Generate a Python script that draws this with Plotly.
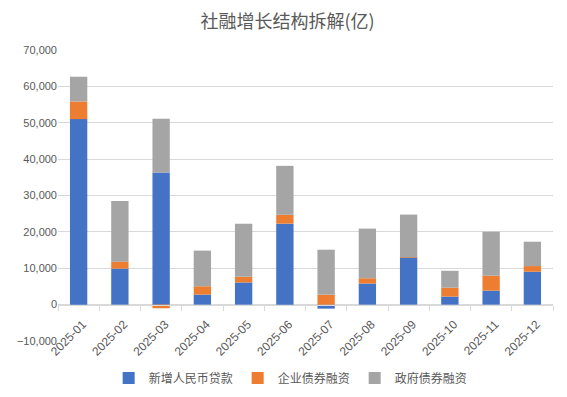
import plotly.graph_objects as go

months = ["2025-01", "2025-02", "2025-03", "2025-04", "2025-05", "2025-06",
          "2025-07", "2025-08", "2025-09", "2025-10", "2025-11", "2025-12"]
rmb_loans = [51000, 9900, 36300, 2750, 6100, 22250, -1100, 5800, 12900, 2200, 3850, 9050]
corp_bonds = [4850, 1900, -1000, 2300, 1550, 2450, 2750, 1450, 50, 2450, 4100, 1550]
gov_bonds = [6800, 16700, 14800, 9800, 14550, 13450, 12350, 13650, 11800, 4650, 12100, 6700]

names = ["新增人民币贷款", "企业债券融资", "政府债券融资"]
colors = ["#4472C4", "#ED7D31", "#A5A5A5"]

font_family = "Liberation Sans, Arial, Noto Sans CJK SC, sans-serif"
gray_text = "#595959"

fig = go.Figure()
for name, vals, col in zip(names, [rmb_loans, corp_bonds, gov_bonds], colors):
    fig.add_trace(go.Bar(x=months, y=vals, name=name, marker_color=col,
                         marker_line_width=0, width=0.42))

fig.update_layout(
    barmode="relative",
    width=559, height=389,
    margin=dict(l=50, r=14, t=42, b=56, autoexpand=False),
    paper_bgcolor="white", plot_bgcolor="white",
    font=dict(family=font_family, color=gray_text, size=11),
    title=dict(text="社融增长结构拆解(亿)", x=0.5, xanchor="center", y=0.964, yanchor="middle",
               font=dict(family="Noto Sans CJK SC, sans-serif", size=18, color=gray_text)),
    legend=dict(orientation="h", x=0.47, xanchor="center", y=-0.127, yanchor="middle",
                font=dict(family="Noto Sans CJK SC, sans-serif", size=12, color=gray_text),
                itemwidth=30, traceorder="normal"),
    showlegend=True,
)
fig.update_yaxes(range=[-10000, 70000], dtick=10000, tickformat=",", showgrid=True,
                 gridcolor="#D9D9D9", gridwidth=1, zeroline=False, showline=False,
                 ticks="", tickfont=dict(size=11, color=gray_text), domain=[0, 1],
                 automargin=False)
fig.update_xaxes(type="category", anchor="free", position=0.125, showline=True,
                 linecolor="#D9D9D9", linewidth=1, ticks="outside", tickson="boundaries",
                 ticklen=5, tickcolor="#D9D9D9", tickangle=-45, showgrid=False,
                 ticklabelstandoff=7, ticklabelshift=4,
                 tickfont=dict(size=12, color=gray_text), automargin=False)

fig.write_html("out.html")
